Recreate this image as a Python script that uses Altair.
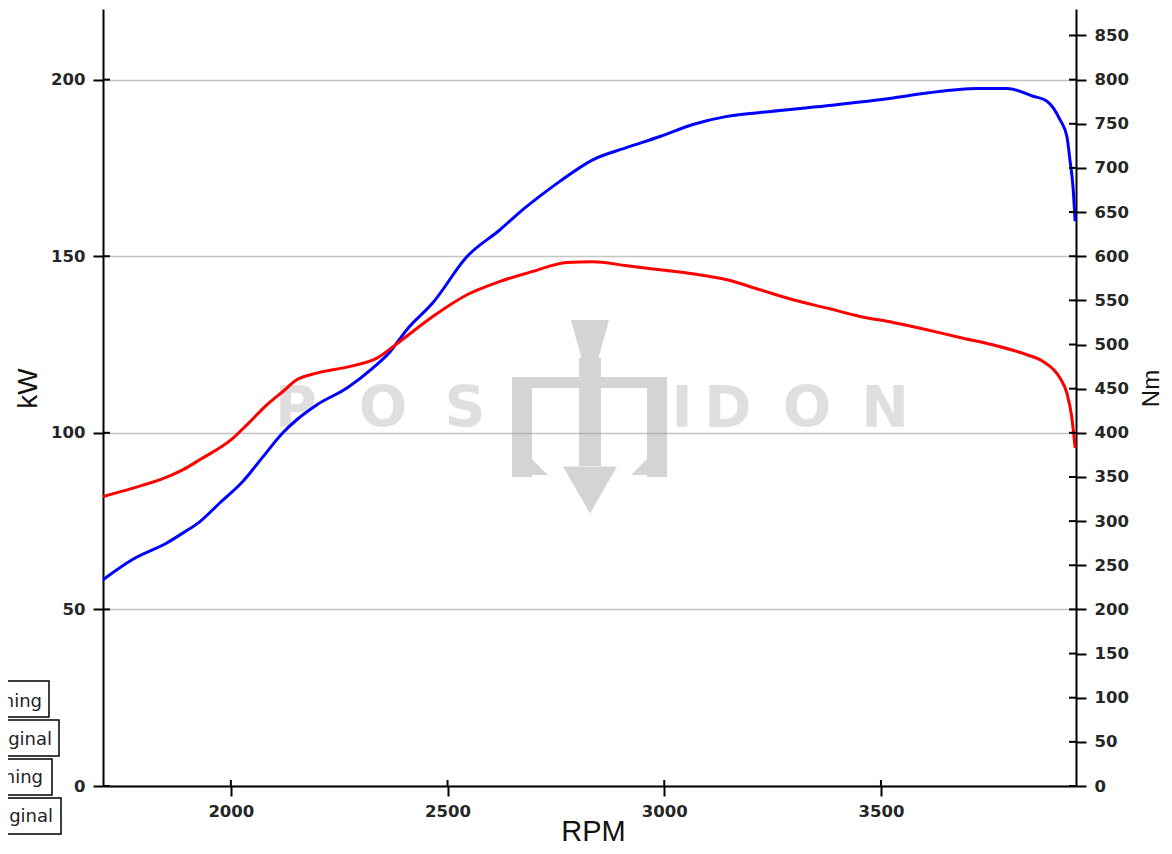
import altair as alt
import pandas as pd

# ---- data ----
kw_rpm = [1705, 1774, 1852, 1889, 1928, 1975, 2028, 2074, 2120, 2152, 2198, 2268,
          2328, 2367, 2406, 2466, 2545, 2621, 2667, 2713, 2759, 2835, 2914, 2990,
          3066, 3145, 3221, 3375, 3528, 3606, 3722, 3791, 3851, 3883, 3913, 3929,
          3936, 3943, 3948]
kw_val = [58.4, 64.2, 68.8, 71.6, 74.8, 80.2, 86.3, 93.2, 100.0, 103.7, 107.9, 112.7,
          118.4, 122.9, 129.2, 136.8, 149.9, 157.5, 162.5, 167.0, 171.2, 177.3, 180.8, 183.9,
          187.3, 189.6, 190.7, 192.6, 194.8, 196.2, 197.5, 197.5, 195.3, 193.9, 188.7, 183.9,
          177.3, 169.8, 159.9]

nm_rpm = [1705, 1774, 1852, 1889, 1928, 2005, 2037, 2083, 2120, 2152, 2198, 2275,
          2337, 2390, 2466, 2545, 2621, 2697, 2775, 2835, 2914, 2990, 3066, 3145,
          3221, 3297, 3375, 3452, 3528, 3606, 3682, 3758, 3837, 3874, 3913, 3929,
          3940, 3948]
nm_val = [327.8, 337.3, 349.8, 358.0, 369.4, 394.0, 409.0, 431.7, 446.8, 460.0, 467.6, 475.2,
          484.6, 503.5, 531.8, 556.4, 571.5, 582.8, 593.0, 593.8, 589.2, 584.7, 580.2, 573.4,
          562.0, 550.7, 541.3, 531.8, 525.0, 516.7, 508.0, 499.7, 488.4, 480.8, 462.0, 445.0,
          418.5, 383.0]

x_ticks = [2000, 2500, 3000, 3500]
kw_ticks = [0, 50, 100, 150, 200]
nm_ticks = list(range(0, 851, 50))

legend_labels = ["Tuning", "Original", "Tuning", "Original"]
wm_left = ["P", "O", "S"]
wm_right = ["I", "D", "O", "N"]

W, H = 973, 777

kw_df = pd.DataFrame({"rpm": kw_rpm, "kw": kw_val})
nm_df = pd.DataFrame({"rpm": nm_rpm, "nm": nm_val})

x_scale = alt.Scale(domain=[1705, 3950], nice=False, zero=False)
kw_scale = alt.Scale(domain=[0, 220], nice=False)
nm_scale = alt.Scale(domain=[0, 880], nice=False)

x_axis = alt.Axis(values=x_ticks, format="d", grid=False, title="RPM", labelPadding=7,
                  titleFontSize=29, titleX=490, titleY=54, titleBaseline="alphabetic",
                  titleAlign="center")
kw_axis = alt.Axis(orient="left", values=kw_ticks, format="d", grid=True, gridColor="#c4c4c4",
                   gridWidth=1.5, labelPadding=8, title="kW", titleFontSize=28,
                   titleAngle=270, titleX=-67, titleY=379, titleBaseline="alphabetic",
                   titleAlign="center")
nm_axis = alt.Axis(orient="right", values=nm_ticks, format="d", grid=False, labelPadding=8,
                   title="Nm", titleFontSize=24, titleAngle=270, titleX=82, titleY=379,
                   titleBaseline="alphabetic", titleAlign="center")

one = pd.DataFrame({"d": [0]})
WM = "#999999"


def txt(s, x, y, size, color, opacity=1.0, weight="normal", font="DejaVu Sans",
        align="center", baseline="alphabetic", angle=0):
    return alt.Chart(pd.DataFrame({"t": [s]})).mark_text(
        fontSize=size, font=font, fontWeight=weight, color=color, opacity=opacity,
        align=align, baseline=baseline, angle=angle
    ).encode(text="t:N", x=alt.value(x), y=alt.value(y))


def box(x1, x2, y1, y2, color, opacity):
    return alt.Chart(one).mark_rect(color=color, opacity=opacity).encode(
        x=alt.value(x1), x2=alt.value(x2), y=alt.value(y1), y2=alt.value(y2))


def sym(path, x, y, size, color, opacity):
    return alt.Chart(one).mark_point(shape=path, filled=True, color=color, opacity=opacity,
                                     size=size, strokeWidth=0).encode(
        x=alt.value(x), y=alt.value(y))


# watermark (logo letters + trident)
wm_layers = []
for s, xp in zip(wm_left, [193, 280, 362]):
    wm_layers.append(txt(s, xp, 418, 57, WM, 0.3, "bold"))
for s, xp in zip(wm_right, [579, 625, 704, 782]):
    wm_layers.append(txt(s, xp, 418, 57, WM, 0.3, "bold"))
TO = 0.42
wm_layers += [
    sym("M-1,-1L1,-1L0.45,1L-0.45,1Z", 487, 330, 38 * 38, WM, TO),   # tapered handle top
    box(476, 498, 349, 368, WM, TO),                                 # handle lower part
    box(409, 564, 368, 379, WM, TO),                                 # crossbar
    box(409, 429, 379, 468, WM, TO),                                 # left prong
    box(544, 564, 379, 468, WM, TO),                                 # right prong
    box(476, 498, 379, 457, WM, TO),                                 # centre shaft
    sym("M-1,-0.87L1,-0.87L0,0.87Z", 487, 481, 54 * 54, WM, TO),     # arrow head
    sym("M-1,-1L1,1L-1,1Z", 437, 458, 16 * 16, WM, TO),              # left barb
    sym("M1,-1L1,1L-1,1Z", 536, 458, 16 * 16, WM, TO),               # right barb
]

blue = alt.Chart(kw_df).mark_line(color="#0000ff", strokeWidth=3, interpolate="monotone").encode(
    x=alt.X("rpm:Q", scale=x_scale, axis=x_axis),
    y=alt.Y("kw:Q", scale=kw_scale, axis=kw_axis),
)

kw_inner = alt.Chart(pd.DataFrame({"kw": kw_ticks})).mark_rule(color="black", strokeWidth=2).encode(
    y=alt.Y("kw:Q", scale=kw_scale, axis=kw_axis), x=alt.value(0), x2=alt.value(7))

kw_layer = alt.layer(*wm_layers, blue, kw_inner)

red = alt.Chart(nm_df).mark_line(color="#ff0000", strokeWidth=3, interpolate="monotone").encode(
    x=alt.X("rpm:Q", scale=x_scale, axis=x_axis),
    y=alt.Y("nm:Q", scale=nm_scale, axis=nm_axis),
)

nm_inner = alt.Chart(pd.DataFrame({"nm": nm_ticks})).mark_rule(color="black", strokeWidth=2).encode(
    y=alt.Y("nm:Q", scale=nm_scale, axis=nm_axis), x=alt.value(W - 7), x2=alt.value(W))

nm_layer = alt.layer(red, nm_inner)

x_inner = alt.Chart(pd.DataFrame({"rpm": x_ticks})).mark_rule(color="black", strokeWidth=2).encode(
    x=alt.X("rpm:Q", scale=x_scale, axis=x_axis), y=alt.value(H - 6), y2=alt.value(H))

# legend boxes (partly outside the page on the left, as in the reference)
legend_layers = []
boxes = [(-54, 672, 708, -61, 698), (-44, 711, 747, -51, 736),
         (-51, 750, 786, -60, 774), (-42, 789, 825, -50, 813)]
for lab, (xr, y1, y2, xt, yt) in zip(legend_labels, boxes):
    legend_layers.append(
        alt.Chart(one).mark_rect(fill="white", stroke="black", strokeWidth=1.5).encode(
            x=alt.value(-250), x2=alt.value(xr), y=alt.value(y1), y2=alt.value(y2)))
    legend_layers.append(txt(lab, xt, yt, 18, "#222222", align="right"))

chart = alt.layer(kw_layer, nm_layer, x_inner, *legend_layers).resolve_scale(
    y="independent"
).properties(
    width=W, height=H,
    padding={"left": 95, "top": 1, "right": 88, "bottom": 60},
    autosize=alt.AutoSizeParams(type="none"),
).configure_view(stroke=None).configure_axis(
    domainColor="black", domainWidth=2, tickColor="black", tickWidth=2, tickSize=10,
    labelFont="DejaVu Sans", labelFontSize=16.5, labelFontWeight="bold", labelColor="#262626",
    titleFont="Liberation Sans", titleFontWeight="normal", titleColor="#111111",
)

chart.save("out.html", embed_options={"renderer": "svg", "actions": False})
